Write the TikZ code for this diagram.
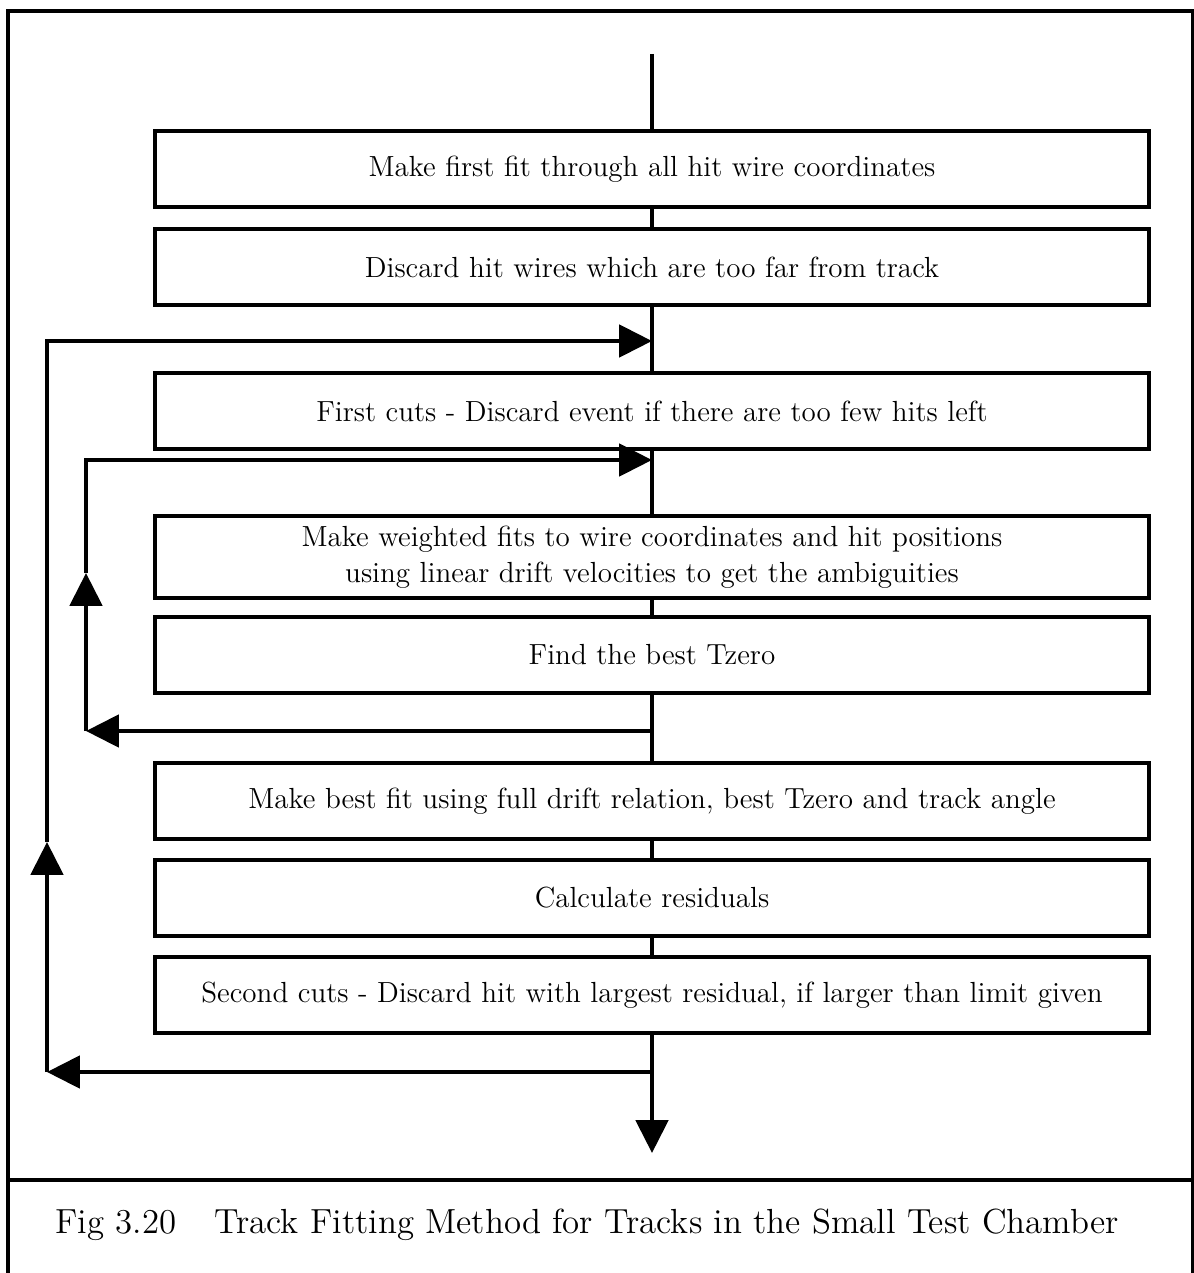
\documentclass[tikz,border=0pt]{standalone}
\usepackage{tikz}
\usetikzlibrary{arrows.meta}

\begin{document}
\begin{tikzpicture}[
		x=0.01341cm, y=-0.01341cm,
		every node/.style={font=\fontsize{11.1}{13.6}\selectfont},
		stage/.style={rectangle, draw, line width=1.5pt, minimum width=13.32cm, minimum height=1.02cm, align=center, inner sep=0pt},
		flow/.style={line width=1.7pt},
		tip/.style={-{Triangle[length=0.44cm, width=0.43cm]}}
	]
  \useasboundingbox (0,0) rectangle (1193,1273);
  \draw[line width=1.2pt] (8,1273) -- (8,11) -- (1193,11) -- (1193,1273);
  \draw[line width=1.2pt] (8,1180) -- (1193,1180);

  \node[stage] (fit) at (652,169) {Make first fit through all hit wire coordinates};
  \node[stage] (far) at (652,267) {Discard hit wires which are too far from track};
  \node[stage] (cut1) at (652,411) {First cuts - Discard event if there are too few hits left};
  \node[stage, minimum height=1.09cm] (wfit) at (652,557) {Make weighted fits to wire coordinates and hit positions\\using linear drift velocities to get the ambiguities};
  \node[stage] (tzero) at (652,655) {Find the best Tzero};
  \node[stage] (best) at (652,801) {Make best fit using full drift relation, best Tzero and track angle};
  \node[stage] (resid) at (652,898) {Calculate residuals};
  \node[stage] (cut2) at (652,995) {Second cuts - Discard hit with largest residual, if larger than limit given};
  \node[font=\fontsize{13.3}{16}\selectfont] (caption) at (587,1225) {Fig 3.20\hspace{1.1em}Track Fitting Method for Tracks in the Small Test Chamber};

  \coordinate (start) at (652,54);
  \coordinate (end) at (652,1153);
  \coordinate (in1) at (652,341);
  \coordinate (in2) at (652,460);
  \coordinate (out2) at (652,731);
  \coordinate (out1) at (652,1072);
  \coordinate (l1b) at (47,1072);
  \coordinate (l1m) at (47,842);
  \coordinate (l1t) at (47,341);
  \coordinate (l2b) at (86,731);
  \coordinate (l2m) at (86,573);
  \coordinate (l2t) at (86,460);

  % main line down through the stages
  \draw[flow] (start) -- (fit);
  \draw[flow] (fit) -- (far);
  \draw[flow] (far) -- (cut1);
  \draw[flow] (cut1) -- (wfit);
  \draw[flow] (wfit) -- (tzero);
  \draw[flow] (tzero) -- (best);
  \draw[flow] (best) -- (resid);
  \draw[flow] (resid) -- (cut2);
  \draw[flow, tip] (cut2) -- (end);

  % inner loop, back to the weighted fits
  \draw[flow, tip] (out2) -- (l2b);
  \draw[flow, tip] (l2b) -- (l2m);
  \draw[flow, tip] (l2m) -- (l2t) -- (in2);

  % outer loop, back to the first cuts
  \draw[flow, tip] (out1) -- (l1b);
  \draw[flow, tip] (l1b) -- (l1m);
  \draw[flow, tip] (l1m) -- (l1t) -- (in1);
\end{tikzpicture}
\end{document}
